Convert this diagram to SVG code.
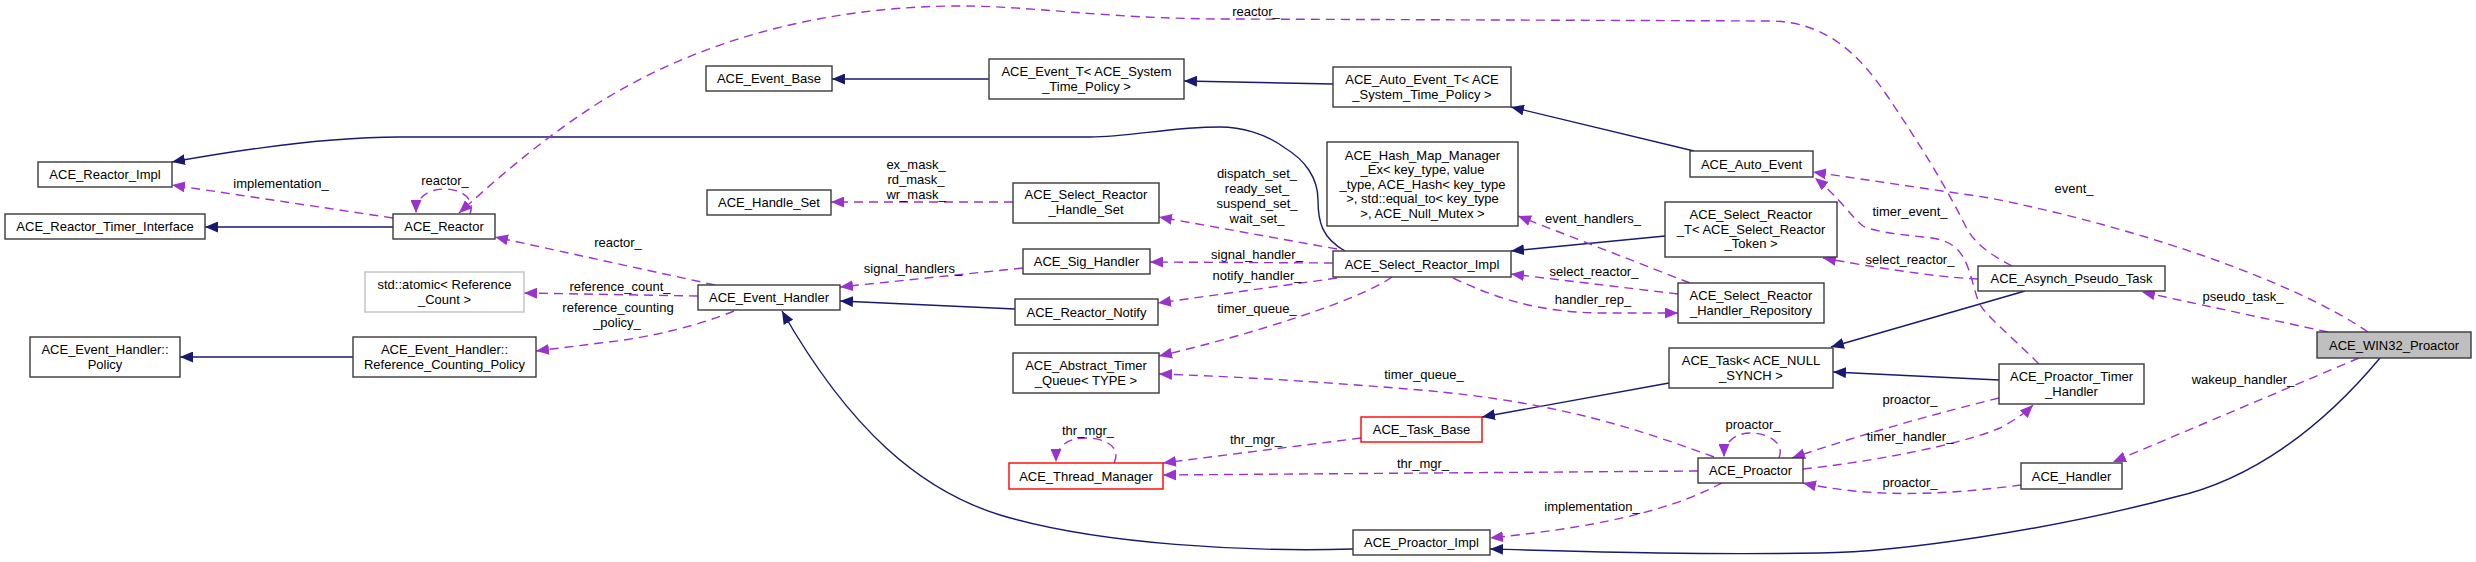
<svg xmlns="http://www.w3.org/2000/svg" width="2476" height="562" viewBox="0 0 2476 562">
<style>
.n rect{fill:#fff;stroke:#3a3a3a;stroke-width:1.4}
.n.gray rect{stroke:#bfbfbf}
.n.red rect{stroke:#ff0000}
.n.main rect{fill:#bfbfbf}
text{font-family:"Liberation Sans",Arial,sans-serif;font-size:13px;text-anchor:middle;fill:#000}
.e path{fill:none;stroke-width:1.4}
.e .s{stroke:#191970;marker-end:url(#ab)}
.e .d{stroke:#9a32cd;stroke-dasharray:9,6;marker-end:url(#ap)}
</style>
<defs>
<marker id="ab" markerUnits="userSpaceOnUse" markerWidth="14" markerHeight="11" viewBox="0 0 14 11" refX="13" refY="5.5" orient="auto"><path d="M0,0 L13,5.5 L0,11 z" fill="#191970"/></marker>
<marker id="ap" markerUnits="userSpaceOnUse" markerWidth="14" markerHeight="11" viewBox="0 0 14 11" refX="13" refY="5.5" orient="auto"><path d="M0,0 L13,5.5 L0,11 z" fill="#9a32cd"/></marker>
</defs>
<rect width="2476" height="562" fill="#fff"/>
<g id="edges" class="e">
<path class="s" d="M393,227 L205,227"/>
<path class="s" d="M353,357 L180,357"/>
<path class="s" d="M989,79 L832,79"/>
<path class="s" d="M1333,84 L1184,81"/>
<path class="s" d="M1694,151 L1511,107"/>
<path class="s" d="M1345,251 C1322,238 1318,222 1318,200 C1318,178 1305,160 1285,148 C1265,133 1240,127 1220,127 C1170,127 1130,137 1090,137 L400,137 C330,137 250,148 172,162"/>
<path class="s" d="M1015,309 L840,301"/>
<path class="s" d="M1353,549 C1250,552 1100,545 1000,515 C920,490 850,430 782,311"/>
<path class="s" d="M1665,236 L1511,251"/>
<path class="s" d="M1669,383 L1482,417"/>
<path class="s" d="M2025,291 L1831,347"/>
<path class="s" d="M1999,380 L1833,372"/>
<path class="s" d="M2380,358 C2320,430 2250,480 2175,497 C2050,530 1900,552 1820,553 C1700,555 1600,552 1490,549"/>
<path class="d" d="M393,218 L172,185"/>
<path class="d" d="M470,214 C476,198 460,189 445,189 C428,189 416,197 416,213"/>
<path class="d" d="M2012,266 C1985,252 1972,240 1965,225 C1940,175 1910,130 1890,100 C1862,58 1830,23 1773,21 L1230,19 C1100,19 1030,5 950,6 C820,8 700,40 600,102 C540,140 490,185 459,213"/>
<path class="d" d="M715,285 L495,237"/>
<path class="d" d="M698,296 L524,293"/>
<path class="d" d="M734,311 C700,325 650,338 600,343 L536,351"/>
<path class="d" d="M1013,202 L831,202"/>
<path class="d" d="M1023,268 L840,287"/>
<path class="d" d="M1337,249 L1159,217"/>
<path class="d" d="M1333,263 L1150,262"/>
<path class="d" d="M1337,278 L1158,303"/>
<path class="d" d="M1392,277 C1360,300 1250,335 1159,356"/>
<path class="d" d="M1114,463 C1122,447 1105,438 1086,438 C1068,438 1056,446 1056,462"/>
<path class="d" d="M1361,438 L1163,463"/>
<path class="d" d="M1698,471 L1163,475"/>
<path class="d" d="M1714,457 C1640,430 1560,402 1420,390 C1300,380 1220,376 1159,374"/>
<path class="d" d="M1779,458 C1785,443 1768,433 1751,433 C1735,433 1724,442 1724,457"/>
<path class="d" d="M1722,483 C1680,505 1620,525 1490,538"/>
<path class="d" d="M1690,283 L1518,216"/>
<path class="d" d="M1453,278 C1500,300 1540,312 1600,313 L1678,313"/>
<path class="d" d="M1678,294 L1511,274"/>
<path class="d" d="M1978,279 C1950,278 1900,272 1823,258"/>
<path class="d" d="M2039,364 C2010,335 1985,315 1979,303 C1972,285 1970,262 1957,249 C1948,240 1935,238 1923,237 C1895,234 1872,231 1863,226 C1852,218 1840,198 1815,178"/>
<path class="d" d="M2368,332 C2300,285 2150,230 1990,198 L1813,172"/>
<path class="d" d="M2328,332 L2142,292"/>
<path class="d" d="M2359,358 L2113,462"/>
<path class="d" d="M1999,398 C1930,415 1860,435 1792,458"/>
<path class="d" d="M1803,469 C1870,462 1960,445 2000,428 C2015,420 2025,413 2033,405"/>
<path class="d" d="M2021,485 C1960,493 1880,500 1803,483"/>
<text x="281" y="188">implementation_</text>
<text x="445" y="185">reactor_</text>
<text x="1256" y="16">reactor_</text>
<text x="618" y="247">reactor_</text>
<text x="620" y="291">reference_count_</text>
<text x="618" y="312">reference_counting</text>
<text x="617" y="327">_policy_</text>
<text x="916" y="169">ex_mask_</text>
<text x="916" y="184">rd_mask_</text>
<text x="916" y="199">wr_mask_</text>
<text x="913" y="273">signal_handlers_</text>
<text x="1257" y="178">dispatch_set_</text>
<text x="1257" y="193">ready_set_</text>
<text x="1257" y="208">suspend_set_</text>
<text x="1257" y="223">wait_set_</text>
<text x="1257" y="259">signal_handler_</text>
<text x="1257" y="280">notify_handler_</text>
<text x="1257" y="313">timer_queue_</text>
<text x="1088" y="435">thr_mgr_</text>
<text x="1256" y="444">thr_mgr_</text>
<text x="1423" y="468">thr_mgr_</text>
<text x="1424" y="379">timer_queue_</text>
<text x="1753" y="429">proactor_</text>
<text x="1592" y="511">implementation_</text>
<text x="1593" y="223">event_handlers_</text>
<text x="1593" y="304">handler_rep_</text>
<text x="1594" y="276">select_reactor_</text>
<text x="1910" y="264">select_reactor_</text>
<text x="1910" y="216">timer_event_</text>
<text x="2074" y="193">event_</text>
<text x="2243" y="301">pseudo_task_</text>
<text x="2243" y="384">wakeup_handler_</text>
<text x="1910" y="404">proactor_</text>
<text x="1910" y="441">timer_handler_</text>
<text x="1910" y="487">proactor_</text>
</g>
<g id="n1" class="n"><rect x="38" y="162" width="134" height="25"/><text x="105" y="179">ACE_Reactor_Impl</text></g>
<g id="n2" class="n"><rect x="5" y="214" width="200" height="25"/><text x="105" y="231">ACE_Reactor_Timer_Interface</text></g>
<g id="n3" class="n"><rect x="393" y="214" width="102" height="25"/><text x="444" y="231">ACE_Reactor</text></g>
<g id="n4" class="n gray"><rect x="365" y="272" width="159" height="40"/><text x="444.5" y="289">std::atomic&lt; Reference</text><text x="444.5" y="304">_Count &gt;</text></g>
<g id="n5" class="n"><rect x="30" y="337" width="150" height="40"/><text x="105" y="353.5">ACE_Event_Handler::</text><text x="105" y="368.5">Policy</text></g>
<g id="n6" class="n"><rect x="353" y="337" width="183" height="40"/><text x="444.5" y="353.5">ACE_Event_Handler::</text><text x="444.5" y="368.5">Reference_Counting_Policy</text></g>
<g id="n7" class="n"><rect x="706" y="66" width="126" height="25"/><text x="769" y="83">ACE_Event_Base</text></g>
<g id="n8" class="n"><rect x="989" y="59" width="195" height="40"/><text x="1086.5" y="75.5">ACE_Event_T&lt; ACE_System</text><text x="1086.5" y="90.5">_Time_Policy &gt;</text></g>
<g id="n9" class="n"><rect x="707" y="190" width="124" height="25"/><text x="769" y="207">ACE_Handle_Set</text></g>
<g id="n10" class="n"><rect x="1013" y="183" width="146" height="40"/><text x="1086" y="199">ACE_Select_Reactor</text><text x="1086" y="214">_Handle_Set</text></g>
<g id="n11" class="n"><rect x="1023" y="249" width="127" height="25"/><text x="1086.5" y="266">ACE_Sig_Handler</text></g>
<g id="n12" class="n"><rect x="698" y="285" width="142" height="25"/><text x="769" y="302">ACE_Event_Handler</text></g>
<g id="n13" class="n"><rect x="1015" y="299" width="143" height="26"/><text x="1086.5" y="316.5">ACE_Reactor_Notify</text></g>
<g id="n14" class="n"><rect x="1013" y="353" width="146" height="40"/><text x="1086" y="369.5">ACE_Abstract_Timer</text><text x="1086" y="384.5">_Queue&lt; TYPE &gt;</text></g>
<g id="n15" class="n red"><rect x="1009" y="463" width="154" height="26"/><text x="1086" y="480.5">ACE_Thread_Manager</text></g>
<g id="n16" class="n"><rect x="1333" y="67" width="178" height="40"/><text x="1422" y="83.5">ACE_Auto_Event_T&lt; ACE</text><text x="1422" y="98.5">_System_Time_Policy &gt;</text></g>
<g id="n17" class="n"><rect x="1327" y="142" width="191" height="84"/><text x="1422.5" y="159.5">ACE_Hash_Map_Manager</text><text x="1422.5" y="174">_Ex&lt; key_type, value</text><text x="1422.5" y="188.5">_type, ACE_Hash&lt; key_type</text><text x="1422.5" y="203">&gt;, std::equal_to&lt; key_type</text><text x="1422.5" y="217.5">&gt;, ACE_Null_Mutex &gt;</text></g>
<g id="n18" class="n"><rect x="1690" y="151" width="123" height="26"/><text x="1751.5" y="168.5">ACE_Auto_Event</text></g>
<g id="n19" class="n"><rect x="1665" y="202" width="172" height="55"/><text x="1751" y="219">ACE_Select_Reactor</text><text x="1751" y="233.5">_T&lt; ACE_Select_Reactor</text><text x="1751" y="248">_Token &gt;</text></g>
<g id="n20" class="n"><rect x="1333" y="251" width="178" height="26"/><text x="1422" y="268.5">ACE_Select_Reactor_Impl</text></g>
<g id="n21" class="n"><rect x="1678" y="283" width="146" height="40"/><text x="1751" y="299.5">ACE_Select_Reactor</text><text x="1751" y="314.5">_Handler_Repository</text></g>
<g id="n22" class="n"><rect x="1669" y="348" width="164" height="40"/><text x="1751" y="364.5">ACE_Task&lt; ACE_NULL</text><text x="1751" y="379.5">_SYNCH &gt;</text></g>
<g id="n23" class="n red"><rect x="1361" y="417" width="121" height="25"/><text x="1421.5" y="434">ACE_Task_Base</text></g>
<g id="n24" class="n"><rect x="1698" y="458" width="105" height="25"/><text x="1750.5" y="475">ACE_Proactor</text></g>
<g id="n25" class="n"><rect x="1353" y="530" width="137" height="25"/><text x="1421.5" y="547">ACE_Proactor_Impl</text></g>
<g id="n26" class="n"><rect x="1978" y="266" width="187" height="25"/><text x="2071.5" y="283">ACE_Asynch_Pseudo_Task</text></g>
<g id="n27" class="n main"><rect x="2317" y="332" width="154" height="26"/><text x="2394" y="349.5">ACE_WIN32_Proactor</text></g>
<g id="n28" class="n"><rect x="1999" y="364" width="145" height="40"/><text x="2071.5" y="380.5">ACE_Proactor_Timer</text><text x="2071.5" y="395.5">_Handler</text></g>
<g id="n29" class="n"><rect x="2021" y="463" width="101" height="26"/><text x="2071.5" y="480.5">ACE_Handler</text></g>
</svg>
